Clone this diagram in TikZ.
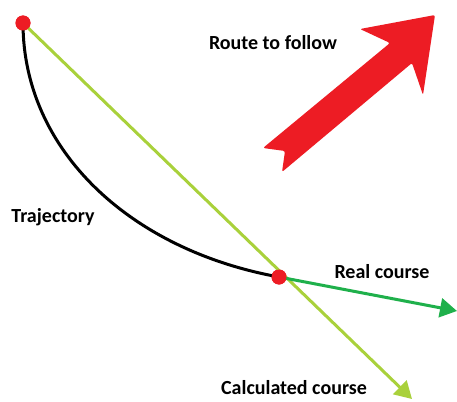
\documentclass[tikz,border=0pt]{standalone}
\usepackage{fontspec}
\setmainfont{Carlito}
\usetikzlibrary{arrows.meta}
\definecolor{pred}{HTML}{ED1C24}
\definecolor{pgreen}{HTML}{1FB04B}
\definecolor{plime}{HTML}{A9D13B}
\tikzset{
  dot/.style={circle,fill=pred,inner sep=0pt,minimum size=15pt},
  lbl/.style={font=\fontsize{20}{22}\selectfont\bfseries,text=black,inner sep=0pt},
  course/.style={line width=3pt,-{Triangle[length=17pt,width=19pt]}},
}
\begin{document}
\begin{tikzpicture}[x=1pt,y=-1pt]
\useasboundingbox[fill=white] (0,0) rectangle (457,401);
% red route arrow
\fill[pred,rounded corners=2pt] (263,148) -- (285,151) -- (282,172) -- (412,63) -- (423,95)
  -- (435,15) -- (360,29) -- (390,43) -- cycle;
\node[dot] (a) at (23,23) {};
\node[dot] (b) at (279,277) {};
\coordinate (c) at (412,399);
\coordinate (r) at (457,311);
\draw[line width=3pt,black] (a.center) .. controls (23,150) and (130,250) .. (b.center);
\draw[course,plime] (a.center) -- (c);
\draw[course,pgreen] (b.center) -- (r);
\node[dot] at (a) {};
\node[dot] at (b) {};
\node[lbl] (t1) at (273,43) {Route to follow};
\node[lbl] (t2) at (53,217) {Trajectory};
\node[lbl] (t3) at (382,272) {Real course};
\node[lbl] (t4) at (294,388) {Calculated course};
\end{tikzpicture}
\end{document}
